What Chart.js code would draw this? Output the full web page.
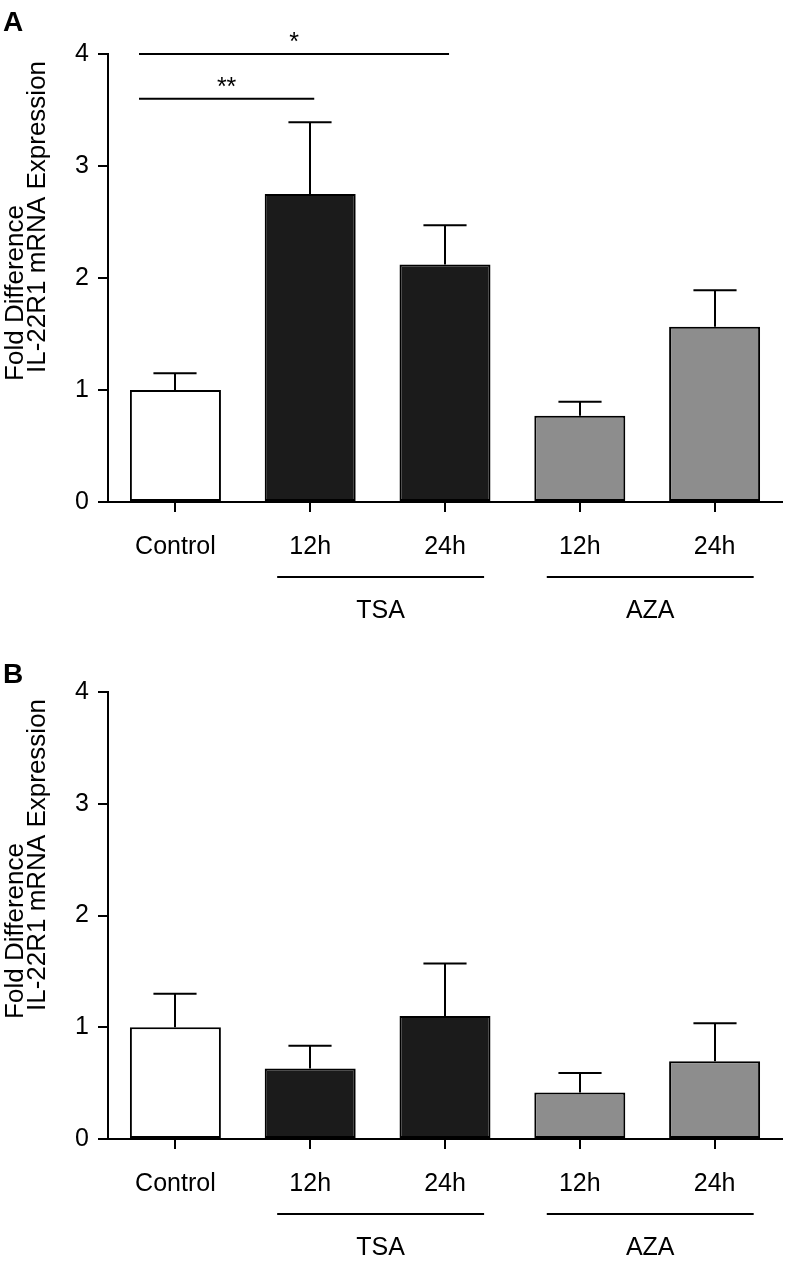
<!DOCTYPE html>
<html><head><meta charset="utf-8">
<script src="https://cdn.jsdelivr.net/npm/chart.js@4.4.0/dist/chart.umd.min.js"></script>
<style>
html,body{margin:0;padding:0;background:#fff;}
#wrap{position:relative;width:786px;height:1263px;background:#fff;}
canvas{display:block;}
</style></head><body>
<div id="wrap">
<canvas id="chartA" width="786" height="638"></canvas>
<canvas id="chartB" width="786" height="625"></canvas>
</div>
<script>
// ---- data ----
const categories = ['Control', '12h', '24h', '12h', '24h'];
const groupLabels = ['TSA', 'AZA'];
const groupFrom = [1, 3];
const groupTo = [2, 4];
const yTicks = [0, 1, 2, 3, 4];
const meansA = [1.0, 2.75, 2.12, 0.77, 1.565];
const upperA = [1.15, 3.39, 2.47, 0.895, 1.89];
const meansB = [1.0, 0.63, 1.10, 0.415, 0.695];
const upperB = [1.30, 0.835, 1.57, 0.59, 1.035];
const sigLabels = ['*', '**'];
const sigFrom = [0, 0];
const sigTo = [2, 1];
const sigLevel = [4.0, 3.6];
const barColors = ['#ffffff', '#1b1b1b', '#1b1b1b', '#8d8d8d', '#8d8d8d'];
const yTitle = ['Fold Difference', 'IL-22R1 mRNA Expression'];

const FONT = '"Liberation Sans", Arial, Helvetica, sans-serif';

const decor = {
  id: 'decor',
  afterDatasetsDraw(chart, args, o) {
    const ctx = chart.ctx, ys = chart.scales.y, meta = chart.getDatasetMeta(0);
    const ca = chart.chartArea;
    const catW = (ca.right - ca.left) / categories.length;
    ctx.save();
    ctx.strokeStyle = '#000'; ctx.lineWidth = 2;
    o.upper.forEach((u, i) => {
      const x = Math.round(meta.data[i].x);
      const yTop = ys.getPixelForValue(o.means[i]);
      const yU = ys.getPixelForValue(u);
      ctx.beginPath();
      ctx.moveTo(x, yTop); ctx.lineTo(x, yU);
      ctx.moveTo(x - catW * 0.16, yU); ctx.lineTo(x + catW * 0.16, yU);
      ctx.stroke();
    });
    ctx.restore();
  },
  afterDraw(chart, args, o) {
    const ctx = chart.ctx, xs = chart.scales.x, ys = chart.scales.y;
    const ca = chart.chartArea;
    const catW = (ca.right - ca.left) / categories.length;
    ctx.save();
    ctx.fillStyle = '#000'; ctx.strokeStyle = '#000'; ctx.lineWidth = 2;
    // panel letter
    ctx.font = 'bold 28px ' + FONT;
    ctx.textAlign = 'left'; ctx.textBaseline = 'alphabetic';
    ctx.fillText(o.letter, 3, o.letterY);
    // y title
    ctx.font = '26px ' + FONT;
    ctx.textAlign = 'center';
    const tx = [23, 45], ty = [293, 217];
    yTitle.forEach((t, i) => {
      ctx.save();
      ctx.translate(tx[i], ty[i]);
      ctx.rotate(-Math.PI / 2);
      ctx.fillText(t, 0, 0);
      ctx.restore();
    });
    // group lines
    ctx.font = '25px ' + FONT;
    groupLabels.forEach((g, i) => {
      const x1 = xs.getPixelForValue(groupFrom[i]) - 0.245 * catW;
      const x2 = xs.getPixelForValue(groupTo[i]) + 0.29 * catW;
      const y = ca.bottom + 75;
      ctx.beginPath(); ctx.moveTo(x1, y); ctx.lineTo(x2, y); ctx.stroke();
      ctx.textBaseline = 'middle';
      ctx.fillText(g, (x1 + x2) / 2, ca.bottom + 109);
    });
    // significance
    if (o.sig) {
      sigLabels.forEach((s, i) => {
        const x1 = xs.getPixelForValue(sigFrom[i]) - 0.27 * catW;
        const x2 = xs.getPixelForValue(sigTo[i]) + 0.03 * catW;
        const y = ys.getPixelForValue(sigLevel[i]);
        ctx.beginPath(); ctx.moveTo(x1, y); ctx.lineTo(x2, y); ctx.stroke();
        ctx.textBaseline = 'alphabetic';
        ctx.fillText(s, (x1 + x2) / 2, y - 4);
      });
    }
    ctx.restore();
  }
};

function makeChart(id, means, upper, xAxisH, letter, letterY, sig) {
  return new Chart(document.getElementById(id), {
    type: 'bar',
    data: {
      labels: categories,
      datasets: [{
        data: means,
        backgroundColor: barColors,
        borderColor: '#000',
        borderWidth: 2,
        borderSkipped: false,
        barPercentage: 0.675,
        categoryPercentage: 1
      }]
    },
    options: {
      responsive: false, animation: false, devicePixelRatio: 1,
      layout: { padding: { top: 54, right: 4, left: 0, bottom: 0 } },
      plugins: {
        legend: { display: false }, tooltip: { enabled: false },
        decor: { means: means, upper: upper, letter: letter, letterY: letterY, sig: sig }
      },
      scales: {
        x: {
          offset: true,
          grid: { display: true, drawOnChartArea: false, drawTicks: true, tickLength: 10, lineWidth: 2, color: '#000', offset: false },
          border: { display: true, color: '#000', width: 2 },
          ticks: { color: '#000', font: { family: FONT, size: 25 }, padding: 20, maxRotation: 0, autoSkip: false },
          afterFit(s) { s.height = xAxisH; }
        },
        y: {
          min: 0, max: 4,
          afterBuildTicks(s) { s.ticks = yTicks.map(v => ({ value: v })); },
          grid: { display: true, drawOnChartArea: false, drawTicks: true, tickLength: 10, lineWidth: 2, color: '#000' },
          border: { display: true, color: '#000', width: 2 },
          ticks: { color: '#000', font: { family: FONT, size: 25 }, padding: 9 },
          afterFit(s) { s.width = 108; }
        }
      }
    },
    plugins: [decor]
  });
}

makeChart('chartA', meansA, upperA, 136, 'A', 31, true);
makeChart('chartB', meansB, upperB, 124, 'B', 45, false);
</script>
</body></html>
